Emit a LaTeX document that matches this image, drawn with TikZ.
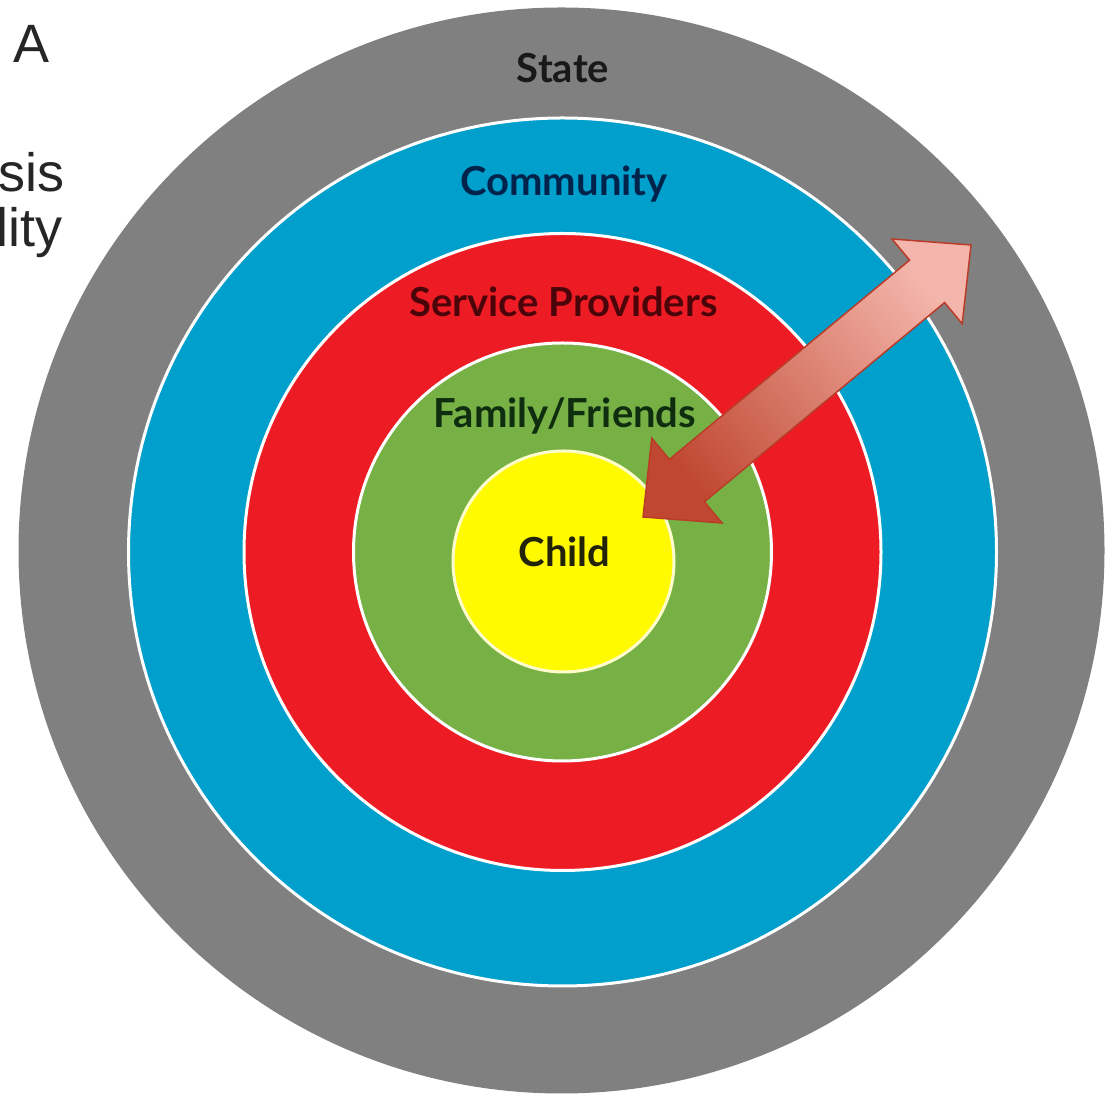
\documentclass[tikz,border=0pt]{standalone}
\usepackage{fontspec}
\setmainfont{Liberation Sans}
\newfontfamily\ringfont{Lato}
\usetikzlibrary{calc}
\definecolor{ringgrey}{RGB}{128,128,128}
\definecolor{ringblue}{RGB}{0,159,204}
\definecolor{ringred}{RGB}{237,28,36}
\definecolor{ringgreen}{RGB}{119,177,70}
\definecolor{ringyellow}{RGB}{255,250,0}
\definecolor{txstate}{RGB}{25,25,25}
\definecolor{txcomm}{RGB}{0,35,75}
\definecolor{txserv}{RGB}{75,5,10}
\definecolor{txfam}{RGB}{15,45,15}
\definecolor{txchild}{RGB}{35,35,10}
\definecolor{arrowdark}{RGB}{192,72,50}
\definecolor{arrowlight}{RGB}{244,182,172}
\definecolor{arrowline}{RGB}{185,60,40}
\begin{document}
\begin{tikzpicture}[x=1pt,y=1pt,
  ring/.style={draw=white, line width=3pt},
  ringlabel/.style={anchor=base, inner sep=0pt, font=\ringfont\bfseries\fontsize{40}{48}\selectfont},
  sidetext/.style={anchor=base west, inner sep=0pt, text=black!85, font=\fontsize{54}{60}\selectfont}]
\useasboundingbox (0,0) rectangle (1117,1097);
\clip (0,0) rectangle (1117,1097);
% rings
\fill[ringgrey] (561.5,546.5) circle[radius=543];
\filldraw[ring, fill=ringblue] (562.5,545) circle[radius=434];
\filldraw[ring, fill=ringred] (562.5,545) circle[radius=318.5];
\filldraw[ring, fill=ringgreen] (562.5,545) circle[radius=209];
\filldraw[ring, draw=white!80!yellow, fill=ringyellow] (563.5,535.5) circle[radius=110.5];
% labels
\node[ringlabel, text=txstate] (state) at (563,1014) {State};
\node[ringlabel, text=txcomm] (comm) at (564,901) {Community};
\node[ringlabel, text=txserv] (serv) at (563.5,780) {Service Providers};
\node[ringlabel, text=txfam] (fam) at (565,669) {Family/Friends};
\node[ringlabel, text=txchild] (child) at (564.5,530) {Child};
% side text
\node[sidetext] (ta) at (13,1034) {A};
\node[sidetext] (tsis) at (-1.5,905) {sis};
\node[sidetext] (tlity) at (-4,850) {lity};
% double arrow
\coordinate (T1) at (971,852);
\coordinate (T2) at (643,580);
\shade[draw=arrowline, line width=1.5pt, line join=miter,
  bottom color=arrowdark, top color=arrowlight, shading angle=-50]
  (T1) -- (892,858) -- (909.6,836.8) -- (669.4,637.6) -- (651.8,658.8)
  -- (T2) -- (722,574) -- (704.4,595.2) -- (944.6,794.4) -- (962.2,773.2) -- cycle;
\end{tikzpicture}
\end{document}
